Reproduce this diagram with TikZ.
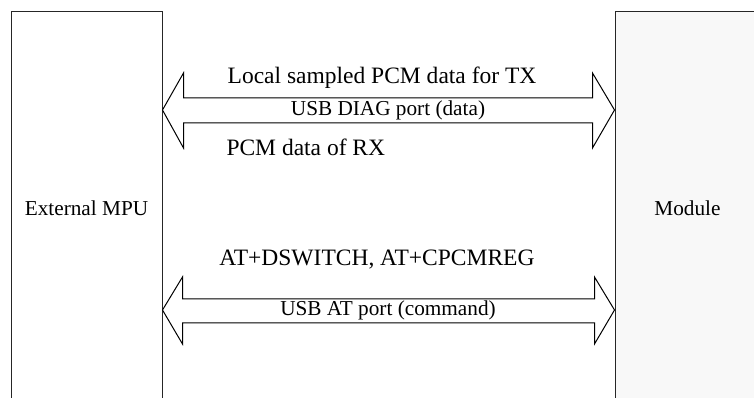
\documentclass[tikz,border=0pt]{standalone}
\usepackage{fontspec}
\setmainfont{Liberation Serif}
\usetikzlibrary{calc}
\definecolor{modfill}{HTML}{F8F8F8}

\begin{document}
\begin{tikzpicture}[x=0.4pt, y=-0.4pt,
  unit/.style={rectangle, draw=black!85, line width=0.4pt, inner sep=0pt,
               minimum width=#1*0.4pt, minimum height=156.8pt,
               font=\fontsize{8.5}{10}\selectfont},
  fatarrow/.style={draw, fill=white, line width=0.4pt, line join=miter},
  biglabel/.style={inner sep=0pt, font=\fontsize{9.4}{11}\selectfont},
  smalllabel/.style={inner sep=0pt, font=\fontsize{8.5}{10}\selectfont}]
\useasboundingbox (0,0) rectangle (754,398);
\clip (0,0) rectangle (754,398);
\node[unit=151]               (mpu) at (86.5,208) {External MPU};
\node[unit=145, fill=modfill] (mod) at (687.5,208) {Module};
% upper arrow: USB DIAG port
\draw[fatarrow] (mpu.east |- 0,110) -- ++(21,-37) -- ++(0,25)
  -- ($(mod.west |- 0,98)+(-22,0)$) -- ++(0,-25) -- (mod.west |- 0,110)
  -- ++(-22,38) -- ++(0,-25) -- ($(mpu.east |- 0,123)+(21,0)$)
  -- ++(0,25) -- cycle;
% lower arrow: USB AT port
\draw[fatarrow] (mpu.east |- 0,310) -- ++(20,-33) -- ++(0,22)
  -- ($(mod.west |- 0,299)+(-20,0)$) -- ++(0,-22) -- (mod.west |- 0,310)
  -- ++(-20,34) -- ++(0,-21) -- ($(mpu.east |- 0,323)+(20,0)$)
  -- ++(0,21) -- cycle;
\node[biglabel]            (tx)   at (382,78)  {Local sampled PCM data for TX};
\node[smalllabel]          (diag) at (388,110) {USB DIAG port (data)};
\node[biglabel, anchor=west] (rx) at (226,147) {PCM data of RX};
\node[biglabel]            (cmd)  at (377,260) {AT+DSWITCH, AT+CPCMREG};
\node[smalllabel]          (at)   at (388,310) {USB AT port (command)};
\end{tikzpicture}
\end{document}
